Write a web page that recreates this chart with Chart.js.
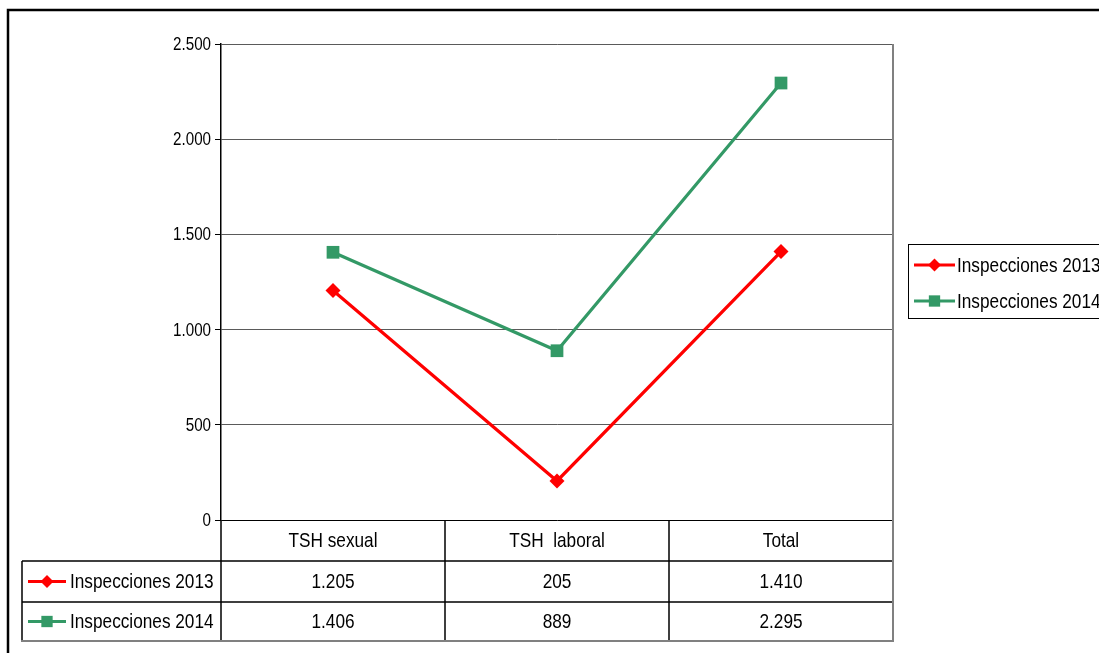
<!DOCTYPE html>
<html><head><meta charset="utf-8">
<script src="https://cdn.jsdelivr.net/npm/chart.js@4.4.1/dist/chart.umd.min.js"></script>
<style>html,body{margin:0;padding:0;background:#fff;overflow:hidden}#wrap{width:1099px;height:653px;position:relative}</style>
</head><body><div id="wrap"><canvas id="c" width="1099" height="653"></canvas></div>
<script>
const categories = ['TSH sexual', 'TSH  laboral', 'Total'];
const seriesNames = ['Inspecciones 2013', 'Inspecciones 2014'];
const values2013 = [1205, 205, 1410];
const values2014 = [1406, 889, 2295];
const yTicks = [0, 500, 1000, 1500, 2000, 2500];
const seriesColors = ['#FF0000', '#339966'];
const seriesMarkers = ['rectRot', 'rect'];
const markerRadius = [7.5, 9];

const FONT = '"Liberation Sans", Arial, sans-serif';
const CONDENSE = 0.82;
const fmt = n => String(n).replace(/\B(?=(\d{3})+(?!\d))/g, '.');

function textC(ctx, text, x, y, align) {
  ctx.save();
  ctx.translate(x, y);
  ctx.scale(CONDENSE, 1);
  ctx.textAlign = align;
  ctx.fillText(text, 0, 0);
  ctx.restore();
}

const tablePlugin = {
  id: 'tablePlugin',
  afterDraw(chart) {
    const ctx = chart.ctx, area = chart.chartArea, xs = chart.scales.x, ys = chart.scales.y;
    const step = xs.getPixelForValue(1) - xs.getPixelForValue(0);
    const bounds = categories.map((c, i) => xs.getPixelForValue(i) - step / 2);
    bounds.push(xs.getPixelForValue(categories.length - 1) + step / 2);
    const rows = [area.bottom, area.bottom + 41, area.bottom + 82, area.bottom + 121];
    const tableLeft = 22;
    ctx.save();
    // y tick labels (condensed)
    ctx.fillStyle = '#000';
    ctx.textBaseline = 'middle';
    ctx.font = '18.5px ' + FONT;
    ys.ticks.forEach(t => textC(ctx, fmt(t.value), 211, ys.getPixelForValue(t.value) + 1, 'right'));

    // table lines
    ctx.strokeStyle = '#000'; ctx.lineWidth = 1.5;
    ctx.beginPath();
    ctx.moveTo(tableLeft, rows[1]); ctx.lineTo(area.right, rows[1]);
    ctx.moveTo(tableLeft, rows[2]); ctx.lineTo(area.right, rows[2]);
    ctx.moveTo(tableLeft, rows[1]); ctx.lineTo(tableLeft, rows[3]);
    for (let i = 0; i < bounds.length - 1; i++) {
      ctx.moveTo(bounds[i], area.bottom); ctx.lineTo(bounds[i], rows[3]);
    }
    ctx.stroke();
    ctx.strokeStyle = '#808080'; ctx.lineWidth = 2;
    ctx.beginPath();
    ctx.moveTo(tableLeft - 1, rows[3]); ctx.lineTo(area.right + 1, rows[3]);
    ctx.moveTo(area.right, area.top); ctx.lineTo(area.right, rows[3]);
    ctx.stroke();

    // header text
    ctx.fillStyle = '#000';
    ctx.font = '21px ' + FONT;
    ctx.textBaseline = 'middle';
    categories.forEach((c, i) => textC(ctx, c, xs.getPixelForValue(i), (rows[0] + rows[1]) / 2 + 1, 'center'));
    const series = [values2013, values2014];
    series.forEach((vals, s) => {
      const cy = (rows[s + 1] + rows[s + 2]) / 2 + 1;
      vals.forEach((v, i) => textC(ctx, fmt(v), xs.getPixelForValue(i), cy, 'center'));
      drawKey(ctx, s, 28, 66, cy - 1);
      ctx.fillStyle = '#000';
      textC(ctx, seriesNames[s], 70, cy, 'left');
    });

    // right legend
    ctx.strokeStyle = '#000'; ctx.lineWidth = 1;
    ctx.strokeRect(908.5, 244.5, 300, 74);
    seriesNames.forEach((name, s) => {
      const cy = 265 + s * 36;
      drawKey(ctx, s, 914, 955, cy);
      ctx.fillStyle = '#000';
      textC(ctx, name, 957, cy + 1, 'left');
    });

    // outer border
    ctx.strokeStyle = '#000'; ctx.lineWidth = 2.5;
    ctx.strokeRect(8, 10, 1200, 1000);
    ctx.restore();
  }
};

function drawKey(ctx, s, x1, x2, y) {
  ctx.save();
  ctx.strokeStyle = seriesColors[s]; ctx.lineWidth = 3;
  ctx.beginPath(); ctx.moveTo(x1, y); ctx.lineTo(x2, y); ctx.stroke();
  ctx.fillStyle = seriesColors[s];
  Chart.helpers.drawPoint(ctx, {pointStyle: seriesMarkers[s], radius: markerRadius[s] - 1, rotation: 0, borderWidth: 0}, (x1 + x2) / 2, y);
  ctx.restore();
}

new Chart(document.getElementById('c'), {
  type: 'line',
  data: {
    labels: categories,
    datasets: [values2013, values2014].map((vals, s) => ({
      label: seriesNames[s],
      data: vals,
      borderColor: seriesColors[s],
      backgroundColor: seriesColors[s],
      borderWidth: 3.2,
      pointStyle: seriesMarkers[s],
      pointRadius: markerRadius[s],
      pointBackgroundColor: seriesColors[s],
      pointBorderColor: seriesColors[s],
      pointBorderWidth: 0,
      tension: 0,
      fill: false
    }))
  },
  options: {
    responsive: false,
    devicePixelRatio: 1,
    animation: false,
    layout: { padding: { left: 0, top: 44, right: 206, bottom: 133 } },
    plugins: { legend: { display: false }, tooltip: { enabled: false } },
    scales: {
      x: { display: false, offset: true },
      y: {
        min: yTicks[0], max: yTicks[yTicks.length - 1],
        afterFit(scale) { scale.width = 221; },
        afterBuildTicks(scale) { scale.ticks = yTicks.map(v => ({ value: v })); },
        ticks: { display: false, stepSize: yTicks[1] - yTicks[0] },
        grid: { color: c => (c.tick && c.tick.value === 0) ? '#000' : '#5a5a5a', lineWidth: 1, tickColor: '#000', tickLength: 6, drawTicks: true },
        border: { display: true, color: '#000', width: 1.5 }
      }
    }
  },
  plugins: [tablePlugin]
});
</script>
</body></html>
